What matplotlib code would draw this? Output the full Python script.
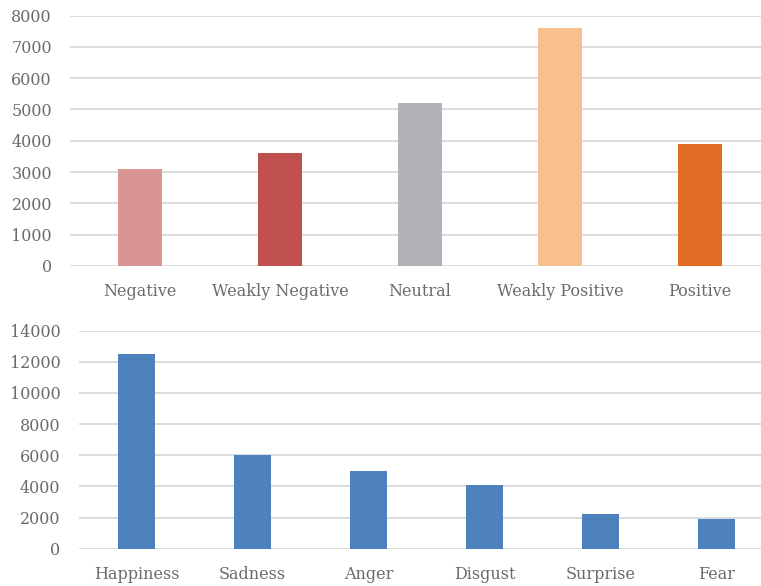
import matplotlib
matplotlib.use("Agg")
import matplotlib.pyplot as plt

# Sentiment polarity counts
sentiment_labels = ["Negative", "Weakly Negative", "Neutral", "Weakly Positive", "Positive"]
sentiment_counts = [3100, 3600, 5200, 7600, 3900]
sentiment_colors = ["#D99594", "#C0504D", "#B1B2B5", "#F9C08F", "#E36C25"]

# Emotion category counts
emotion_labels = ["Happiness", "Sadness", "Anger", "Disgust", "Surprise", "Fear"]
emotion_counts = [12500, 6000, 5000, 4100, 2200, 1900]
emotion_color = "#4F81BD"

top_ticks = [0, 1000, 2000, 3000, 4000, 5000, 6000, 7000, 8000]
bottom_ticks = [0, 2000, 4000, 6000, 8000, 10000, 12000, 14000]

W, H = 761, 586
text_color = "#6b6b6b"
grid_color = "#d9d9d9"
plt.rcParams["font.family"] = ["DejaVu Serif"]

fig = plt.figure(figsize=(W / 100, H / 100), dpi=100)


def style(ax, ticks, ymax):
    ax.set_ylim(0, ymax)
    ax.set_yticks(ticks)
    ax.set_yticklabels([str(t) for t in ticks])
    for s in ax.spines.values():
        s.set_visible(False)
    ax.yaxis.grid(True, color=grid_color, linewidth=1.3)
    ax.set_axisbelow(True)
    ax.tick_params(axis="both", length=0, labelsize=11.5, labelcolor=text_color)
    ax.tick_params(axis="y", pad=13)
    ax.tick_params(axis="x", pad=12.5)


# top panel: sentiment
ax1 = fig.add_axes([70 / W, (H - 266) / H, 700 / W, 250.5 / H])
x1 = range(len(sentiment_labels))
ax1.bar(x1, sentiment_counts, width=0.315, color=sentiment_colors, zorder=2)
ax1.set_xlim(-0.5, len(sentiment_labels) - 0.5)
ax1.set_xticks(list(x1))
ax1.set_xticklabels(sentiment_labels)
style(ax1, top_ticks, 8000)

# bottom panel: emotions
ax2 = fig.add_axes([78.5 / W, (H - 548.7) / H, 696 / W, 218 / H])
x2 = range(len(emotion_labels))
ax2.bar(x2, emotion_counts, width=0.32, color=emotion_color, zorder=2)
ax2.set_xlim(-0.5, len(emotion_labels) - 0.5)
ax2.set_xticks(list(x2))
ax2.set_xticklabels(emotion_labels)
style(ax2, bottom_ticks, 14000)

fig.savefig("out.png", dpi=100, facecolor="white")
